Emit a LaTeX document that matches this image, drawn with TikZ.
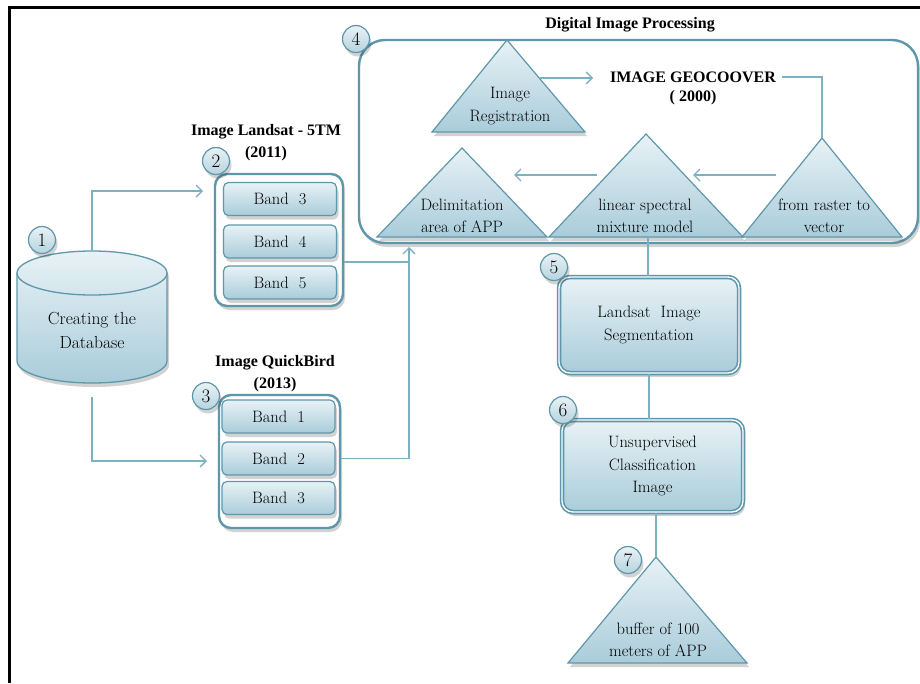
\documentclass[tikz,border=0pt]{standalone}
\usepackage{fontspec}
\newfontfamily\tnr{Liberation Serif}
\usetikzlibrary{arrows.meta,shadows,calc}
\definecolor{edge}{HTML}{5F97AA}
\definecolor{conn}{HTML}{7DB0C1}
\definecolor{fillA}{HTML}{E8F2F6}
\definecolor{fillB}{HTML}{A9CCDA}
\definecolor{txt}{HTML}{000000}
\tikzset{
  shad/.style={drop shadow={opacity=0.22,shadow xshift=2pt,shadow yshift=-4pt,fill=black!80}},
  grad/.style={top color=fillA,bottom color=fillB},
  band/.style={draw=edge,line width=1.2pt,rounded corners=5pt,grad,shad,
    minimum width=113pt,minimum height=33pt,inner sep=0pt,
    font=\rmfamily\fontsize{16.5}{21}\selectfont,text=txt},
  grp/.style={draw=edge,line width=2.4pt,rounded corners=12pt,fill=white,shad,inner sep=0pt},
  num/.style={circle,draw=edge,line width=1.2pt,top color=fillA,bottom color=fillB!85,
    minimum size=27pt,inner sep=0pt,font=\rmfamily\fontsize{19}{19}\selectfont,text=txt,shad},
  conn/.style={draw=conn,line width=1.3pt},
  arr/.style={conn,-{Straight Barb[length=6pt,width=12pt]}},
  ttl/.style={font=\tnr\bfseries\fontsize{16}{22}\selectfont,align=center,text=txt},
  lbl/.style={font=\rmfamily\fontsize{16.5}{22.5}\selectfont,align=center,text=txt},
  tri/.style={draw=edge,line width=1.2pt,grad,shad,line join=miter},
  bigbox/.style={draw=edge,line width=2.4pt,rounded corners=26pt,fill=white,shad},
  proc/.style={draw=edge,double=white,double distance=1.3pt,line width=1.6pt,
    rounded corners=11pt,grad,shad,inner sep=0pt,align=center,
    font=\rmfamily\fontsize{16.5}{22.5}\selectfont,text=txt},
}
\begin{document}
\begin{tikzpicture}[x=1pt,y=-1pt]
\useasboundingbox (0,0) rectangle (920,683);
\fill[white] (0,0) rectangle (920,683);
% frame
\draw[line width=3pt] (9,683) -- (9,7) -- (921,7);

% ---------- big box 4 ----------
\draw[bigbox] (359,40) rectangle (918,243);
\node[ttl] (dip) at (630,25) {Digital Image Processing};
\node[num] (n4) at (356,39) {4};

% triangles
\draw[tri] (507,40) coordinate (regT) -- (585,132) -- (432,132) -- cycle;
\node[lbl] (reg) at (510,106) {Image\\Registration};
\draw[tri] (462,148) -- (547,237) -- (377,237) -- cycle;
\node[lbl] (del) at (462,216) {Delimitation\\area of APP};
\draw[tri] (646,134) -- (743,237) coordinate (linR) -- (549,237) -- cycle;
\coordinate (linB) at (648,237);
\node[lbl] (lin) at (645,216) {linear spectral\\mixture model};
\draw[tri] (822,138) coordinate (rasT) -- (902,237) -- (742,237) -- cycle;
\node[lbl] (ras) at (824,216) {from raster to\\vector};

\node[ttl,inner sep=2pt] (geo) at (693,77) {IMAGE GEOCOOVER};
\node[ttl,inner sep=2pt] (geoy) at (693,98) {( 2000)};

\coordinate (regR) at (540,78);
\coordinate (geoIn) at (593,78);
\draw[arr] (regR) -- (geoIn);
\draw[conn] ([xshift=4pt]geo.east) -| (rasT);
\coordinate (a1s) at (776,175);
\coordinate (a1e) at (693,175);
\coordinate (a2s) at (597,175);
\coordinate (a2e) at (514,175);
\draw[arr] (a1s) -- (a1e);
\draw[arr] (a2s) -- (a2e);

% ---------- database ----------
\draw[draw=edge,line width=1.3pt,grad,shad]
  (17,273) -- (17,361) arc (180:0:75 and 22) -- (167,273) arc (0:-180:75 and 22) -- cycle;
\draw[draw=edge,line width=1.3pt] (17,273) arc (180:0:75 and 22);
\node[minimum width=150pt,minimum height=139pt,inner sep=0pt] (db) at (92,320.5) {};
\node[lbl,font=\rmfamily\fontsize{17.5}{24}\selectfont] (dbt) at (92,330) {Creating the\\Database};
\node[num] (n1) at (42,240) {1};

% ---------- group 2 ----------
\node[grp,minimum width=128pt,minimum height=132pt] (grp2) at (279,240) {};
\node[band] (l3) at (280,199) {Band\ \ 3};
\node[band] (l4) at (280,241.5) {Band\ \ 4};
\node[band] (l5) at (280,282.5) {Band\ \ 5};
\node[ttl] (t2) at (266,143) {Image Landsat - 5TM\\(2011)};
\node[num] (n2) at (216,161) {2};

% ---------- group 3 ----------
\node[grp,minimum width=121pt,minimum height=133pt] (grp3) at (279.5,461.5) {};
\node[band] (q1) at (278.5,416.5) {Band\ \ 1};
\node[band] (q2) at (278.5,458.5) {Band\ \ 2};
\node[band] (q3) at (278.5,498) {Band\ \ 3};
\node[ttl] (t3) at (275,374) {Image QuickBird\\(2013)};
\node[num] (n3) at (206,396) {3};

% ---------- connectors left ----------
\coordinate (in2) at (203,191);
\coordinate (in3) at (207,461);
\draw[arr] (db.north) |- (in2);
\draw[arr] ([yshift=-7pt]db.south) |- (in3);
\coordinate (jn) at (409,262);
\coordinate (upEnd) at (409,247);
\draw[conn] (grp2.east |- jn) -- (jn);
\draw[arr] (grp3.east |- q2.east) -| (upEnd);

% ---------- right column ----------
\node[proc,minimum width=180pt,minimum height=96pt] (seg) at (649,325) {Landsat\ \ Image\\Segmentation};
\node[num] (n5) at (554,267) {5};
\node[proc,minimum width=181pt,minimum height=92pt] (cls) at (652.5,466) {Unsupervised\\Classification\\Image};
\node[num] (n6) at (563,410) {6};
\draw[conn] (linB) -- (linB |- seg.north);
\draw[conn] (seg.south) -- (seg.south |- cls.north);

\draw[tri] (656,557) coordinate (bufT) -- (747,663) -- (568,663) -- cycle;
\node[lbl] (buf) at (658,640) {buffer of 100\\meters of APP};
\draw[conn] (cls.south -| bufT) -- (bufT);
\node[num] (n7) at (628,560) {7};
\end{tikzpicture}
\end{document}
